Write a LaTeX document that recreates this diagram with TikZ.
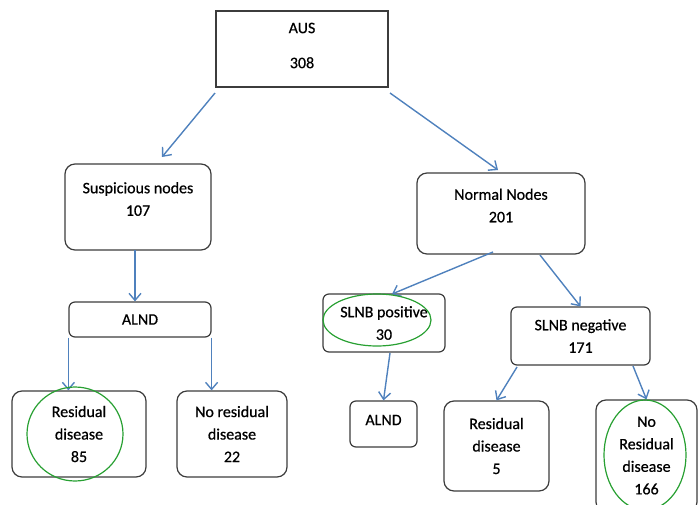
\documentclass[tikz,border=0pt]{standalone}
\usepackage{fontspec}
\setmainfont[FakeBold=0.6]{Carlito}
\usetikzlibrary{arrows.meta}
\definecolor{arrowblue}{RGB}{79,129,189}
\definecolor{ringgreen}{RGB}{40,160,50}
\definecolor{boxgray}{RGB}{60,60,60}
\begin{document}
\begin{tikzpicture}[x=1pt,y=-1pt,
every node/.style={font=\fontsize{16}{22.5}\selectfont,align=center},
box/.style={draw=boxgray,line width=1.2pt,rounded corners=10pt,inner sep=0pt},
sbox/.style={box,rounded corners=6pt},
txt/.style={inner sep=0pt},
arw/.style={-{Straight Barb[length=7pt,width=12pt]},draw=arrowblue,line width=1.4pt},
ring/.style={draw=ringgreen,line width=1.2pt}
]
\useasboundingbox (0,0) rectangle (699,504);
\clip (0,0) rectangle (699,504);
% top
\node[box,rounded corners=0pt,minimum width=172pt,minimum height=76pt]at(302,49)(aus){};
\node[txt]at(302,45.5)(austxt){AUS\\[12.5pt]308};
% left branch
\node[box,minimum width=146pt,minimum height=86pt]at(138,207)(susp){};
\node[txt]at(138,199)(susptxt){Suspicious nodes\\107};
\node[sbox,minimum width=142pt,minimum height=35pt]at(140,319.5)(alndl){ALND};
\node[box,minimum width=134pt,minimum height=86pt]at(79,434)(res85){Residual\\disease\\85};
\node[box,minimum width=110pt,minimum height=86pt]at(232,434)(nores22){No residual\\disease\\22};
% right branch
\node[box,minimum width=168pt,minimum height=81pt]at(501,213.5)(norm){};
\node[txt]at(501,205.5)(normtxt){Normal Nodes\\201};
\node[sbox,minimum width=122pt,minimum height=58pt]at(384,323)(pos){SLNB positive\\30};
\node[sbox,minimum width=139pt,minimum height=58pt]at(580.5,336)(neg){SLNB negative\\171};
\node[sbox,minimum width=67pt,minimum height=46pt]at(383.5,424)(alndr){};
\node[txt]at(383.5,420)(alndrtxt){ALND};
\node[box,minimum width=105pt,minimum height=90pt]at(496.5,446)(res5){Residual\\disease\\5};
\node[box,minimum width=101pt,minimum height=112pt]at(646.5,456)(nores166){};
\node[txt]at(646.5,455.5)(nores166txt){No\\Residual\\disease\\166};
% arrow ends
\coordinate(ausl)at(215,93);
\coordinate(suspin)at(162,157);
\coordinate(ausr)at(390,93);
\coordinate(normin)at(498,170);
\coordinate(suspout)at(135,250);
\coordinate(norml)at(493,252);
\coordinate(posin)at(392,294);
\coordinate(normr)at(540,255);
\coordinate(posout)at(390,353);
\coordinate(negl)at(517,367);
\coordinate(negr)at(633,366);
\draw[arw](ausl)--(suspin);
\draw[arw](ausr)--(normin);
\draw[arw](suspout)--(suspout|-alndl.north);
\draw[arw](alndl.south west)--(alndl.south west|-res85.north);
\draw[arw](alndl.south east)--(alndl.south east|-nores22.north);
\draw[arw](norml)--(posin);
\draw[arw](normr)--(neg.north);
\draw[arw](posout)--(alndr.north);
\draw[arw](negl)--(res5.north);
\draw[arw](negr)--(nores166.north);
% green rings
\draw[ring](377,320)ellipse[x radius=54pt,y radius=26pt];
\draw[ring](75,434)ellipse[x radius=48pt,y radius=47pt];
\draw[ring](645,455)ellipse[x radius=41pt,y radius=55pt];
\end{tikzpicture}
\end{document}
